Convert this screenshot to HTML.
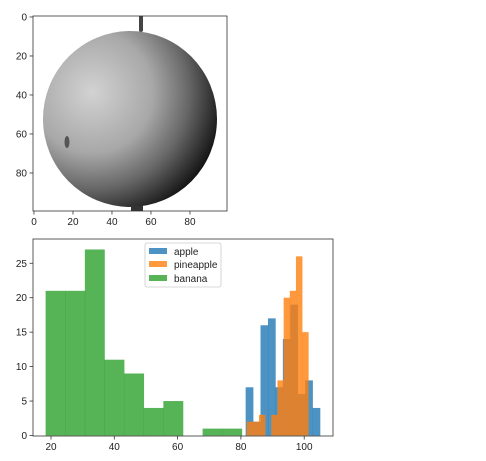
<!DOCTYPE html>
<html><head><meta charset="utf-8"><style>
body{margin:0;background:#fff;}
svg text{font-family:"Liberation Sans","DejaVu Sans",sans-serif;font-size:10px;fill:#222;}
</style></head><body>
<svg id="root" width="486" height="456" viewBox="0 0 486 456">
<defs>
<radialGradient id="apg" cx="92" cy="92" r="135" gradientUnits="userSpaceOnUse">
<stop offset="0" stop-color="#d2d2d2"/>
<stop offset="0.45" stop-color="#a8a8a8"/>
<stop offset="0.72" stop-color="#666"/>
<stop offset="1" stop-color="#111"/>
</radialGradient>
<clipPath id="imgclip"><rect x="33" y="16" width="194" height="195"/></clipPath>
</defs>
<g>
<rect x="33" y="16" width="194" height="195" fill="#fff"/>
<g clip-path="url(#imgclip)">
<rect x="139" y="14" width="4" height="18" fill="#444" rx="2"/>
<ellipse cx="130" cy="119" rx="87" ry="88" fill="url(#apg)"/>
<ellipse cx="67" cy="142" rx="2.5" ry="6" fill="#555"/>
<rect x="131" y="206" width="12" height="6" fill="#333"/>
</g>
<rect x="33" y="16" width="194" height="195" fill="none" stroke="#333" stroke-width="0.8"/>
<g id="imgticks"></g>
</g>
<g>
<rect x="33" y="239" width="300" height="197" fill="#fff"/>
<g id="bars"></g>
<rect x="33" y="239" width="300" height="197" fill="none" stroke="#333" stroke-width="0.8"/>
<g id="hticks"></g>
<g>
<rect x="145" y="243" width="76" height="44" fill="#fff" fill-opacity="0.8" stroke="#ccc" stroke-width="0.8" rx="2"/>
<rect x="149" y="248" width="18" height="6" fill="#1f77b4" fill-opacity="0.8"/>
<text x="174" y="255">apple</text>
<rect x="149" y="261" width="18" height="6" fill="#ff7f0e" fill-opacity="0.8"/>
<text x="174" y="268">pineapple</text>
<rect x="149" y="275" width="18" height="6" fill="#2ca02c" fill-opacity="0.8"/>
<text x="174" y="282">banana</text>
</g>
</g>
</svg>
<script>
const appleStart = 81.5, appleWidth = 2.35;
const appleCounts = [7, 2, 16, 17, 7, 14, 19, 6, 8, 4];
const pineStart = 81.8, pineWidth = 1.95;
const pineCounts = [2, 2, 3, 0, 3, 8, 20, 21, 26, 15];
const bananaStart = 18.3, bananaWidth = 6.2;
const bananaCounts = [21, 21, 27, 11, 9, 4, 5, 0, 1, 1];
const xTicks = [20, 40, 60, 80, 100];
const yTicks = [0, 5, 10, 15, 20, 25];
const imgTicks = [0, 20, 40, 60, 80];

const NS = "http://www.w3.org/2000/svg";
const xs = v => 51 + (v - 20) * 3.165;
const ys = v => 435.5 - v * 6.89;
const is = v => 33 + (v + 0.5) * 1.95;
function mk(tag, attrs, parent) {
  const e = document.createElementNS(NS, tag);
  for (const k in attrs) e.setAttribute(k, attrs[k]);
  parent.appendChild(e);
  return e;
}
const bars = document.getElementById('bars');
function series(name, start, w, counts, color) {
  counts.forEach((c, i) => {
    if (c <= 0) return;
    const x0 = xs(start + i * w), x1 = xs(start + (i + 1) * w);
    const r = mk('rect', {x: x0, y: ys(c), width: x1 - x0 + 0.3, height: ys(0) - ys(c), fill: color, 'fill-opacity': 0.8}, bars);
    
    
  });
}
series('apple', appleStart, appleWidth, appleCounts, '#1f77b4');
series('pineapple', pineStart, pineWidth, pineCounts, '#ff7f0e');
series('banana', bananaStart, bananaWidth, bananaCounts, '#2ca02c');

const ht = document.getElementById('hticks');
xTicks.forEach(v => {
  const x = xs(v);
  const l = mk('line', {x1: x, x2: x, y1: 436, y2: 439.5, stroke: '#333', 'stroke-width': 0.8}, ht);
  
  
  const t = mk('text', {x: x, y: 450, 'text-anchor': 'middle'}, ht);
  t.textContent = v;
  
  
});
yTicks.forEach(v => {
  const y = ys(v);
  const l = mk('line', {x1: 29.5, x2: 33, y1: y, y2: y, stroke: '#333', 'stroke-width': 0.8}, ht);
  
  
  const t = mk('text', {x: 27, y: y + 3.5, 'text-anchor': 'end'}, ht);
  t.textContent = v;
  
  
});
const it = document.getElementById('imgticks');
imgTicks.forEach(v => {
  const p = is(v);
  const l = mk('line', {x1: p, x2: p, y1: 211, y2: 214.5, stroke: '#333', 'stroke-width': 0.8}, it);
  
  
  const t = mk('text', {x: p, y: 225, 'text-anchor': 'middle'}, it);
  t.textContent = v;
  
  
  const l2 = mk('line', {x1: 29.5, x2: 33, y1: 16 + (v + 0.5) * 1.95, y2: 16 + (v + 0.5) * 1.95, stroke: '#333', 'stroke-width': 0.8}, it);
  
  
  const t2 = mk('text', {x: 27, y: 16 + (v + 0.5) * 1.95 + 3.5, 'text-anchor': 'end'}, it);
  t2.textContent = v;
  
  
});
</script>
</body></html>
